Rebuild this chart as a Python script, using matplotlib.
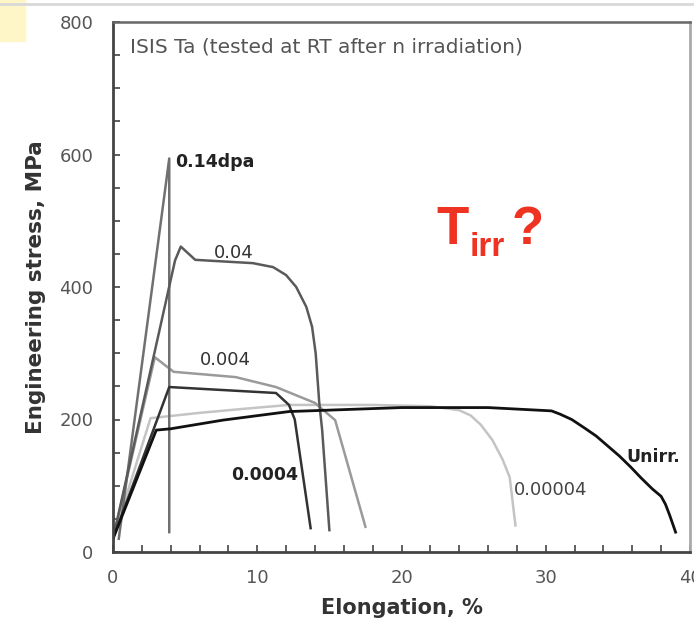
import matplotlib
matplotlib.use("Agg")
import matplotlib.pyplot as plt
from matplotlib.ticker import MultipleLocator
from matplotlib.patches import Rectangle
from matplotlib.lines import Line2D

plt.rcParams["font.family"] = ["DejaVu Sans"]

# --- Data ---
unirr_x = [0, 3.0, 4.0, 7.6, 12.2, 20, 26, 30.4, 31.0, 31.8, 32.7, 33.5, 34.3, 35.1,
           35.9, 36.6, 37.4, 38.0, 38.3, 38.6, 39.0]
unirr_y = [20, 184, 186, 199, 212, 218, 218, 213, 208, 200, 187, 175, 160, 145,
           128, 112, 95, 84, 72, 55, 30]

d00004_x = [0, 2.6, 6, 9, 12.2, 18, 22, 24.0, 24.8, 25.5, 26.3, 27.0, 27.5, 27.9]
d00004_y = [20, 202, 210, 216, 222, 222, 220, 214, 206, 192, 169, 140, 113, 40]

d0004_x = [0, 3.9, 8, 11.3, 12.2, 12.6, 13.7]
d0004_y = [20, 249, 244, 240, 222, 200, 36]

d004_x = [0, 2.9, 4.2, 8.5, 11.3, 14.0, 15.4, 17.5]
d004_y = [20, 294, 272, 264, 249, 225, 199, 38]

d04_x = [0, 4.3, 4.7, 5.7, 9.7, 11.1, 12.0, 12.7, 13.4, 13.8, 14.05, 14.3, 14.5, 15.0]
d04_y = [20, 440, 461, 441, 436, 430, 418, 400, 370, 340, 300, 225, 184, 33]

d14_x = [0.4, 3.9, 3.9]
d14_y = [20, 594, 30]

fig = plt.figure(figsize=(6.94, 6.31), dpi=100)
ax = fig.add_axes([113 / 694, 79 / 631, 577 / 694, 530 / 631])

# scan artifacts: pale yellow corner and grey top rule
fig.patches.append(Rectangle((0, 0.935), 0.036, 0.065, transform=fig.transFigure,
                             color="#fff6c8", zorder=0))
fig.lines.append(Line2D([0, 1], [0.993, 0.993], transform=fig.transFigure,
                        color="#d8d8d8", lw=2))

ax.plot(d00004_x, d00004_y, color="#c4c4c4", lw=1.8)
ax.plot(d004_x, d004_y, color="#9a9a9a", lw=1.8)
ax.plot(d14_x, d14_y, color="#707070", lw=1.8)
ax.plot(d04_x, d04_y, color="#5a5a5a", lw=1.8)
ax.plot(d0004_x, d0004_y, color="#333333", lw=1.8)
ax.plot(unirr_x, unirr_y, color="#111111", lw=2)

ax.set_xlim(0, 40)
ax.set_ylim(0, 800)
ax.xaxis.set_major_locator(MultipleLocator(10))
ax.xaxis.set_minor_locator(MultipleLocator(2))
ax.yaxis.set_major_locator(MultipleLocator(200))
ax.yaxis.set_minor_locator(MultipleLocator(50))
ax.tick_params(which="both", direction="in", length=5, width=1.2, color="#444444",
               labelsize=13, labelcolor="#555555")
ax.tick_params(axis="x", pad=12)
ax.tick_params(axis="y", pad=14)
for side in ["left", "bottom"]:
    ax.spines[side].set_color("#444444")
    ax.spines[side].set_linewidth(2)
ax.spines["top"].set_color("#666666")
ax.spines["top"].set_linewidth(1.8)
ax.spines["right"].set_color("#aaaaaa")
ax.spines["right"].set_linewidth(2)

ax.set_xlabel("Elongation, %", fontsize=15, fontweight="bold", color="#333333", labelpad=8)
ax.set_ylabel("Engineering stress, MPa", fontsize=15.5, fontweight="bold", color="#333333",
              labelpad=10)

ax.text(1.2, 762, "ISIS Ta (tested at RT after n irradiation)", fontsize=14.5,
        color="#555555", va="center")

lab = dict(fontsize=12.5, fontweight="bold", color="#222222", va="center")
ax.text(4.3, 588, "0.14dpa", **lab)
ax.text(7.0, 452, "0.04", fontsize=13, color="#333333", va="center")
ax.text(6.0, 290, "0.004", fontsize=13, color="#333333", va="center")
ax.text(8.2, 116, "0.0004", **lab)
ax.text(27.8, 94, "0.00004", fontsize=13, color="#444444", va="center")
ax.text(35.6, 143, "Unirr.", **lab)

# red T_irr ? note
red = dict(family="Liberation Sans", fontweight="bold", color="#ee3322", va="center")
ax.text(22.4, 486, "T", fontsize=38, **red)
ax.text(24.7, 460, "irr", fontsize=24, **red)
ax.text(27.6, 486, "?", fontsize=38, **red)

fig.savefig("out.png", dpi=100)
